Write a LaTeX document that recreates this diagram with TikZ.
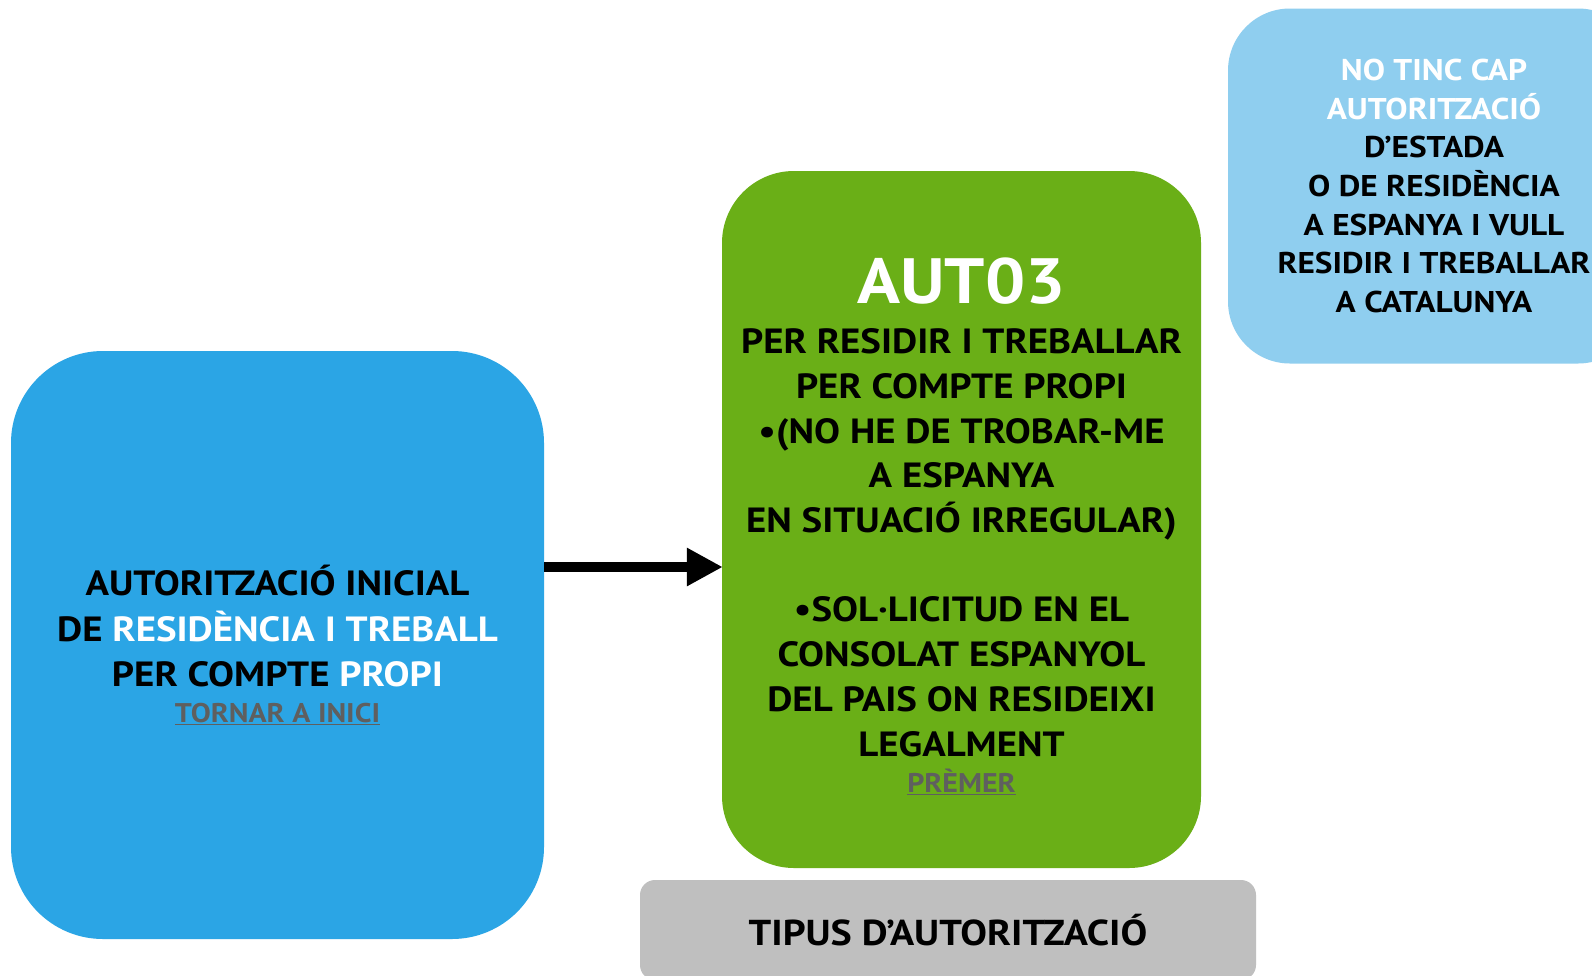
\documentclass[tikz,border=0pt]{standalone}
\usepackage{fontspec}
\setmainfont{PT Sans}[FakeStretch=1.11]
\usetikzlibrary{arrows.meta}
\definecolor{bblue}{HTML}{2BA5E5}
\definecolor{bgreen}{HTML}{6AAF17}
\definecolor{lblue}{HTML}{8FCEEF}
\definecolor{lgray}{HTML}{BFBFBF}
\definecolor{linkc}{HTML}{5F5F5F}
\tikzset{
  card/.style={rounded corners=#1, inner sep=0pt, align=center, text=black},
  txt/.style={inner sep=0pt, align=center, text=black}
}
\newcommand{\lnk}[1]{\textcolor{linkc}{\underline{#1}}}
\begin{document}
\begin{tikzpicture}[x=1pt,y=-1pt,font=\bfseries]
\useasboundingbox (0,0) rectangle (1592,975);
\fill[white] (0,0) rectangle (1592,975);
% blue box
\node[card=92pt, fill=bblue, minimum width=533pt, minimum height=588pt,
  font=\bfseries\fontsize{35}{45.5}\selectfont] (init) at (277.5,645)
  {AUTORITZACIÓ INICIAL\\
   DE \textcolor{white}{RESIDÈNCIA I TREBALL}\\
   PER COMPTE \textcolor{white}{PROPI}\\[-10pt]
   {\fontsize{27}{30}\selectfont\lnk{TORNAR A INICI}}};
% green box
\node[card=72pt, fill=bgreen, minimum width=479pt, minimum height=697pt] (aut) at (961.5,519.5) {};
\node[txt, font=\bfseries\fontsize{35}{44.7}\selectfont] (auttext) at (961.5,526)
  {\textcolor{white}{\fontsize{64}{64}\selectfont AUT03}\\[6pt]
   PER RESIDIR I TREBALLAR\\
   PER COMPTE PROPI\\
   •(NO HE DE TROBAR-ME\\
   A ESPANYA\\
   EN SITUACIÓ IRREGULAR)\\[44.7pt]
   •SOL·LICITUD EN EL\\
   CONSOLAT ESPANYOL\\
   DEL PAIS ON RESIDEIXI\\
   LEGALMENT\\[-8pt]
   {\fontsize{27}{30}\selectfont\lnk{PRÈMER}}};
% light blue box
\node[card=62pt, fill=lblue, minimum width=412pt, minimum height=355pt,
  font=\bfseries\fontsize{30}{38.6}\selectfont] (none) at (1434,186)
  {\textcolor{white}{NO TINC CAP}\\
   \textcolor{white}{AUTORITZACIÓ}\\
   D’ESTADA\\
   O DE RESIDÈNCIA\\
   A ESPANYA I VULL\\
   RESIDIR I TREBALLAR\\
   A CATALUNYA};
% gray box
\node[card=15pt, fill=lgray, minimum width=616pt, minimum height=100pt,
  font=\bfseries\fontsize{36}{40}\selectfont] (tipus) at (948,930)
  {TIPUS D’AUTORITZACIÓ};
% arrow
\coordinate (ay) at (0,567);
\draw[line width=10pt, -{Triangle[length=36pt,width=36pt]}, shorten >=-1pt]
  (init.east |- ay) -- (aut.west |- ay);
\end{tikzpicture}
\end{document}
